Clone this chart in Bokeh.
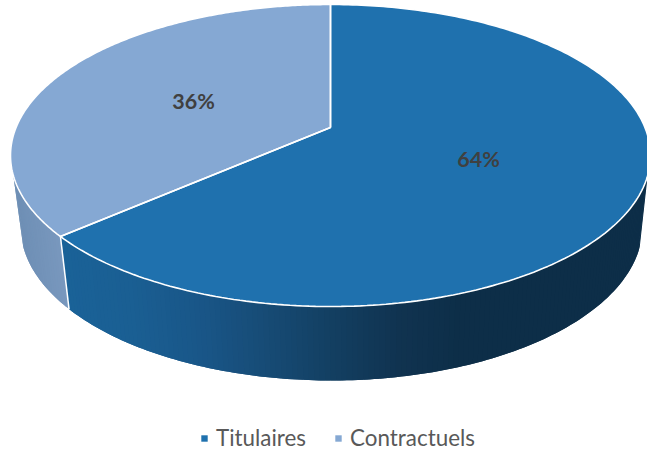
import math
from bokeh.plotting import figure
from bokeh.models import Range1d, Legend, LegendItem
from bokeh.core.properties import value
from bokeh.embed import file_html
from bokeh.resources import INLINE

categories = ["Titulaires", "Contractuels"]
shares = [63.6, 36.4]
top_colors = ["#1F71AE", "#85A8D3"]
wall_stops = [
    [(61, "#1A6298"), (130, "#1A5F93"), (200, "#195688"), (260, "#174C77"), (330, "#133F62"),
     (400, "#103350"), (460, "#0D2E48"), (650, "#0D2E48")],
    [(10, "#6C8DB3"), (70, "#7A99BF")],
]
label_xy = [(478, 158), (193, 100)]

W, H = 647, 451
TOP = dict(cx=330.0, cy=155.0, a=320.0, b=151.0)
BOT = dict(cx=331.0, cy=226.0, a=311.0, b=154.0)
VERTEX_Y = 127.0
C = (TOP["cy"] - VERTEX_Y) / TOP["b"]
TANGENT = math.radians(7.6)


def project(theta):
    """Clockwise angle from the top of the disc, seen in perspective."""
    u, v = math.sin(theta), math.cos(theta)
    d = 1 + C * v
    s = u * math.sqrt(1 - C * C) / d
    t = (v + C) / d
    return TOP["cx"] + TOP["a"] * s, TOP["cy"] - TOP["b"] * t


def on(e, psi):
    return e["cx"] + e["a"] * math.cos(psi), e["cy"] + e["b"] * math.sin(psi)


def hex2(c):
    return [int(c[i:i + 2], 16) for i in (1, 3, 5)]


def grad(stops, x):
    if x <= stops[0][0]:
        return stops[0][1]
    for (x0, c0), (x1, c1) in zip(stops, stops[1:]):
        if x <= x1:
            f = (x - x0) / (x1 - x0)
            a, b = hex2(c0), hex2(c1)
            return "#%02x%02x%02x" % tuple(round(p + (q - p) * f) for p, q in zip(a, b))
    return stops[-1][1]


p = figure(width=W, height=H, x_range=Range1d(0, W), y_range=Range1d(H, 0),
           toolbar_location=None, output_backend="svg", min_border=0,
           outline_line_color=None, background_fill_color="white")
p.styles = {"position": "absolute", "left": "0px", "top": "0px"}
p.axis.visible = False
p.grid.visible = False

total = sum(shares)
split = shares[0] / total * 2 * math.pi
sx, sy = project(split)
seam_psi = math.atan2((sy - TOP["cy"]) / TOP["b"], (sx - TOP["cx"]) / TOP["a"])


def wall(psi0, psi1, stops):
    """Wall as overlapping quads, painted in order so that no seams show."""
    n = max(2, int(abs(psi1 - psi0) / math.radians(1)))
    xs, ys, cols = [], [], []
    for i in range(n):
        p0 = psi0 + (psi1 - psi0) * i / n
        p1 = psi0 + (psi1 - psi0) * (i + 1) / n
        p2 = psi1 if i == n - 1 else psi0 + (psi1 - psi0) * min(n, i + 2) / n
        a0, a1 = on(TOP, p0), on(TOP, p1)
        a2, b2 = on(TOP, p2), on(BOT, p2)
        b0, b1 = on(BOT, p0), on(BOT, p1)
        xs.append([a0[0], a1[0], a2[0], b2[0], b1[0], b0[0]])
        ys.append([a0[1], a1[1], a2[1], b2[1], b1[1], b0[1]])
        cols.append(grad(stops, (a0[0] + a1[0] + b0[0] + b1[0]) / 4))
    p.patches(xs, ys, fill_color=cols, line_color=None)


wall(TANGENT, seam_psi, wall_stops[0])
wall(seam_psi, math.pi - TANGENT, wall_stops[1])

# white seam between the two walls
b = on(BOT, seam_psi)
p.line([sx, b[0]], [sy, b[1]], line_color="white", line_width=1.5)

renderers = []
start = 0.0
vx, vy = TOP["cx"], VERTEX_Y
for share, col in zip(shares, top_colors):
    span = share / total * 2 * math.pi
    n = 240
    arc = [project(start + span * i / n) for i in range(n + 1)]
    xs = [vx] + [q[0] for q in arc]
    ys = [vy] + [q[1] for q in arc]
    r = p.patch(xs, ys, fill_color=col, line_color=None)
    renderers.append(r)
    start += span

start = 0.0
for share in shares:
    span = share / total * 2 * math.pi
    n = 240
    arc = [project(start + span * i / n) for i in range(n + 1)]
    xs = [vx] + [q[0] for q in arc] + [vx]
    ys = [vy] + [q[1] for q in arc] + [vy]
    p.line(xs, ys, line_color="white", line_width=1.6)
    start += span

for share, (lx, ly) in zip(shares, label_xy):
    p.text([lx], [ly], text=[f"{share:.0f}%"], text_font=value("Lato"), text_font_style="bold",
           text_font_size="21.5px", text_color="#404040", text_align="center", text_baseline="middle")

legend = Legend(items=[LegendItem(label=c, renderers=[r]) for c, r in zip(categories, renderers)],
                location=(200, 0), orientation="horizontal", glyph_width=8, glyph_height=8,
                label_standoff=8, spacing=28, padding=0, margin=0, border_line_color=None,
                background_fill_alpha=0, label_text_font="Lato", label_text_font_size="22.4px",
                label_text_color="#595959")
p.add_layout(legend)

open("out.html", "w").write(file_html(p, INLINE))
